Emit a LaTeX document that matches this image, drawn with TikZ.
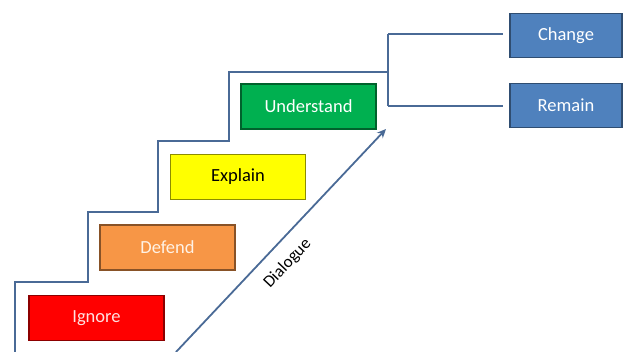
\documentclass[tikz,border=0pt]{standalone}
\usepackage{fontspec}
\setmainfont{Carlito}
\usetikzlibrary{arrows.meta}
\definecolor{stair}{HTML}{4A6A96}
\definecolor{cred}{HTML}{FF0000}
\definecolor{corange}{HTML}{F79646}
\definecolor{cyellow}{HTML}{FFFF00}
\definecolor{cgreen}{HTML}{00B050}
\definecolor{cblue}{HTML}{4F81BD}
\tikzset{
  stepbox/.style={draw=#1!55!black, fill=#1, line width=1.2pt, minimum width=135pt, minimum height=45pt, inner sep=0pt, font=\fontsize{18.5}{20}\selectfont},
  outbox/.style={draw=cblue!60!black, fill=cblue, line width=1.2pt, minimum width=112pt, minimum height=44pt, inner sep=0pt, text=white, font=\fontsize{18.5}{20}\selectfont},
  stairline/.style={draw=stair, line width=2.4pt},
}
\begin{document}
\begin{tikzpicture}[x=1pt,y=-1pt]
\useasboundingbox (0,0) rectangle (635,352);
\node[stepbox=cred, text=white!88!red] (ignore) at (96.5,318) {Ignore};
\node[stepbox=corange, text=white!90!orange] (defend) at (167.5,247.5) {Defend};
\node[stepbox=cyellow, text=black] (explain) at (238,177) {Explain};
\node[stepbox=cgreen, text=white] (understand) at (308.5,106.5) {Understand};
\node[outbox] (change) at (566,35.5) {Change};
\node[outbox] (remain) at (566,105.5) {Remain};
\coordinate (s0) at (15,352);
\coordinate (j) at (388,72);
\coordinate (jt) at (388,34);
\coordinate (jb) at (388,106);
\draw[stairline] (s0) |- (88,282) |- (158,212) |- (229,141) |- (j);
\draw[stairline] (jt) -- (jb);
\draw[stairline, shorten >=6pt] (jt) -- (jt -| change.west);
\draw[stairline, shorten >=6pt] (jb) -- (jb -| remain.west);
\coordinate (d0) at (176,352);
\coordinate (d1) at (386,129);
\draw[draw=stair, line width=1.8pt, -{Stealth[length=9pt,width=8pt]}] (d0) -- (d1)
  node[pos=0.46, sloped, below=9pt, font=\fontsize{17}{19}\selectfont, text=black] (dlg) {Dialogue};
\end{tikzpicture}
\end{document}
